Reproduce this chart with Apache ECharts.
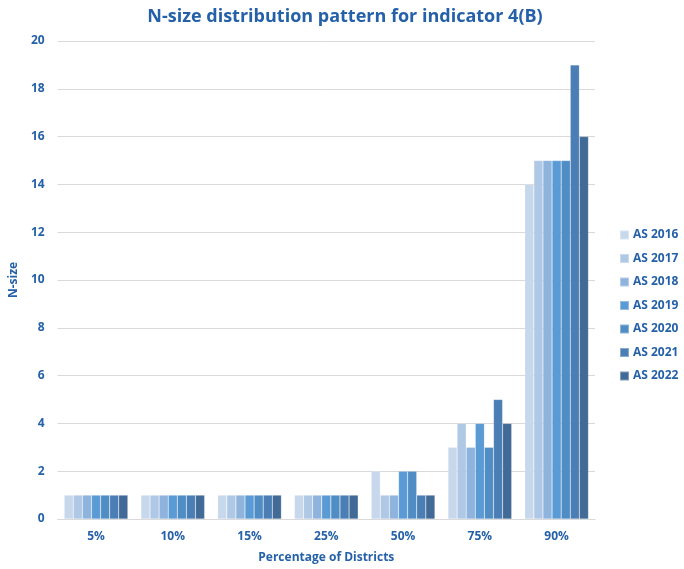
<!DOCTYPE html>
<html><head><meta charset="utf-8">
<script src="https://cdn.jsdelivr.net/npm/echarts@6/dist/echarts.min.js"></script>
<style>html,body{margin:0;padding:0;background:#fff}#c{width:684px;height:569px}</style>
</head><body><div id="c"></div>
<script>
var categories = ['5%', '10%', '15%', '25%', '50%', '75%', '90%'];
var seriesNames = ['AS 2016', 'AS 2017', 'AS 2018', 'AS 2019', 'AS 2020', 'AS 2021', 'AS 2022'];
var as2016 = [1, 1, 1, 1, 2, 3, 14];
var as2017 = [1, 1, 1, 1, 1, 4, 15];
var as2018 = [1, 1, 1, 1, 1, 3, 15];
var as2019 = [1, 1, 1, 1, 2, 4, 15];
var as2020 = [1, 1, 1, 1, 2, 3, 15];
var as2021 = [1, 1, 1, 1, 1, 5, 19];
var as2022 = [1, 1, 1, 1, 1, 4, 16];
var yTicks = [0, 2, 4, 6, 8, 10, 12, 14, 16, 18, 20];
var colors = ['#C7D7EC', '#AFC8E6', '#8EB3DD', '#5B9BD5', '#508DC5', '#4A7EB4', '#416A96'];
var allValues = [as2016, as2017, as2018, as2019, as2020, as2021, as2022];
var txt = '#2561A8';
var font = '"Open Sans", sans-serif';
var chart = echarts.init(document.getElementById('c'));
chart.setOption({
  animation: false,
  color: colors,
  title: {
    text: 'N-size distribution pattern for indicator 4(B)',
    left: 340, top: 3, textAlign: 'center',
    textStyle: { color: txt, fontSize: 18, fontWeight: 'bold', fontFamily: font }
  },
  legend: {
    orient: 'vertical', left: 614, top: 224, itemGap: 11.5,
    itemWidth: 9, itemHeight: 9, icon: 'rect',
    textStyle: { color: txt, fontSize: 12, fontWeight: 'bold', fontFamily: font, padding: [0, 0, 0, -1] },
    data: seriesNames
  },
  grid: { left: 55, right: 89, top: 41, bottom: 50, containLabel: false },
  xAxis: {
    type: 'category', data: categories,
    name: 'Percentage of Districts', nameLocation: 'middle', nameGap: 33,
    nameTextStyle: { color: txt, fontSize: 12, fontWeight: 'bold', fontFamily: font },
    axisLine: { lineStyle: { color: '#D9D9D9', width: 1 } },
    axisTick: { show: false },
    axisLabel: { color: txt, fontSize: 12, fontWeight: 'bold', fontFamily: font, margin: 12 }
  },
  yAxis: {
    type: 'value', min: yTicks[0], max: yTicks[yTicks.length - 1], interval: 2,
    name: 'N-size', nameLocation: 'middle', nameGap: 31,
    nameTextStyle: { color: txt, fontSize: 12, fontWeight: 'bold', fontFamily: font },
    axisLine: { show: false }, axisTick: { show: false },
    splitLine: { lineStyle: { color: '#D9D9D9', width: 1 } },
    axisLabel: { color: txt, fontSize: 12, fontWeight: 'bold', fontFamily: font, margin: 13 }
  },
  series: seriesNames.map(function (n, i) {
    return {
      name: n, type: 'bar', data: allValues[i],
      barGap: '0%', barCategoryGap: '17%',
      itemStyle: { color: colors[i], borderColor: 'rgba(255,255,255,0.35)', borderWidth: 0.5 }
    };
  })
});
chart.setOption({ grid: { bottom: 50 } });
</script></body></html>
